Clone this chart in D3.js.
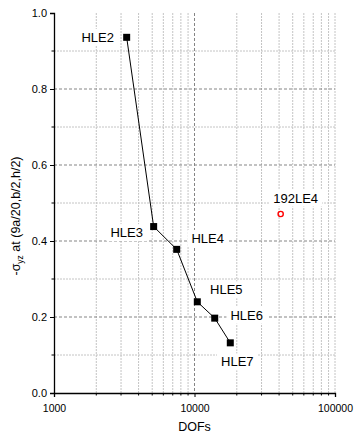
<!DOCTYPE html>
<html>
<head>
<meta charset="utf-8">
<script src="https://cdn.jsdelivr.net/npm/d3@7"></script>
<style>
  body { margin: 0; background: #fff; }
  svg text { font-family: "Liberation Sans", Arial, sans-serif; fill: #000; }
</style>
</head>
<body>
<div id="chart"></div>
<script>
// data
var labels = ['HLE2', 'HLE3', 'HLE4', 'HLE5', 'HLE6', 'HLE7'];
var dofs = [3290, 5120, 7470, 10470, 13930, 17980];
var stress = [0.936, 0.438, 0.378, 0.240, 0.197, 0.132];
var refLabel = ['192LE4'];
var refDofs = [41050];
var refStress = [0.471];
var xTicks = [1000, 10000, 100000];
var yTicks = [0, 0.2, 0.4, 0.6, 0.8, 1.0];

function addLabel(g, text, x, y) {
    var t = g.append("text")
        .attr("x", x)
        .attr("y", y)
        .attr("dy", "0.35em")
        .attr("text-anchor", "middle")
        .style("font-size", "13px")
        .text(text);
    var b = t.node().getBBox();
    g.insert("rect", function() { return t.node(); })
        .attr("x", b.x - 4).attr("y", b.y - 1)
        .attr("width", b.width + 8).attr("height", b.height + 2)
        .attr("fill", "#fff");
}

(function (d3) {
    var margin = { top: 13, right: 19, bottom: 40, left: 54 };
    var width = 354 - margin.left - margin.right;
    var height = 433 - margin.top - margin.bottom;

    var svg = d3.select("#chart").append("svg")
        .attr("width", 354).attr("height", 433);
    var g = svg.append("g")
        .attr("transform", "translate(" + margin.left + "," + margin.top + ")");

    var x = d3.scaleLog().domain([1000, 100000]).range([0, width]);
    var y = d3.scaleLinear().domain([0, 1]).range([height, 0]);

    var minorX = [];
    [1000, 10000].forEach(function(d) {
        for (var k = 2; k <= 9; k++) minorX.push(d * k);
    });
    var minorY = [0.1, 0.3, 0.5, 0.7, 0.9];

    // grid
    var grid = g.append("g");
    grid.selectAll(".vmin").data(minorX.concat([100000])).enter().append("line")
        .attr("x1", d => x(d)).attr("x2", d => x(d))
        .attr("y1", 0).attr("y2", height)
        .attr("stroke", "#c4c4c4").attr("stroke-dasharray", "2,1");
    grid.selectAll(".hmin").data(minorY).enter().append("line")
        .attr("x1", 0).attr("x2", width)
        .attr("y1", d => y(d)).attr("y2", d => y(d))
        .attr("stroke", "#c4c4c4").attr("stroke-dasharray", "2,1");
    grid.selectAll(".vmaj").data([10000]).enter().append("line")
        .attr("x1", d => x(d)).attr("x2", d => x(d))
        .attr("y1", 0).attr("y2", height)
        .attr("stroke", "#858585").attr("stroke-dasharray", "3,2");
    grid.selectAll(".hmaj").data([0.2, 0.4, 0.6, 0.8]).enter().append("line")
        .attr("x1", 0).attr("x2", width)
        .attr("y1", d => y(d)).attr("y2", d => y(d))
        .attr("stroke", "#858585").attr("stroke-dasharray", "3,2");

    // labels (white boxes hide the grid)
    var lab = g.append("g");
    var offs = [[-29, 0], [-27, 6], [31, -11], [29, -12], [32, -3], [7, 19]];
    labels.forEach(function(l, i) {
        addLabel(lab, l, x(dofs[i]) + offs[i][0], y(stress[i]) + offs[i][1]);
    });
    addLabel(lab, refLabel[0], x(refDofs[0]) + 15, y(refStress[0]) - 16);

    // axes
    var xAxis = g.append("g").attr("transform", "translate(0," + height + ")")
        .call(d3.axisBottom(x).tickValues(xTicks).tickFormat(d3.format("d")).tickSize(4));
    xAxis.append("g").selectAll("line").data(minorX).enter().append("line")
        .attr("x1", d => x(d)).attr("x2", d => x(d))
        .attr("y1", 0).attr("y2", 2.5).attr("stroke", "#000");
    xAxis.selectAll("text").style("font-size", "10.5px").attr("dy", "1.1em");

    var yAxis = g.append("g")
        .call(d3.axisLeft(y).tickValues(yTicks).tickFormat(d3.format(".1f")).tickSize(4));
    yAxis.append("g").selectAll("line").data(minorY).enter().append("line")
        .attr("x1", 0).attr("x2", -2.5)
        .attr("y1", d => y(d)).attr("y2", d => y(d)).attr("stroke", "#000");
    yAxis.selectAll("text").style("font-size", "11px");
    g.selectAll(".domain").attr("stroke", "#000").attr("stroke-width", 1.3);
    g.selectAll(".tick line").attr("stroke", "#000");

    // series
    var line = d3.line().x(d => x(d[0])).y(d => y(d[1]));
    var pts = dofs.map((d, i) => [d, stress[i]]);
    g.append("path").datum(pts).attr("d", line)
        .attr("fill", "none").attr("stroke", "#000").attr("stroke-width", 1);
    g.selectAll(".sq").data(pts).enter().append("rect")
        .attr("x", d => x(d[0]) - 3.5).attr("y", d => y(d[1]) - 3.5)
        .attr("width", 7).attr("height", 7).attr("fill", "#000");
    g.selectAll(".ref").data(refDofs).enter().append("circle")
        .attr("cx", d => x(d)).attr("cy", (d, i) => y(refStress[i]))
        .attr("r", 2.6).attr("fill", "none").attr("stroke", "#ff0000").attr("stroke-width", 1.4);

    // titles
    svg.append("text")
        .attr("x", margin.left + x(10000)).attr("y", 431)
        .attr("text-anchor", "middle").style("font-size", "12.5px")
        .text("DOFs");
    var yt = svg.append("text")
        .attr("transform", "translate(20," + (margin.top + height / 2 + 13) + ") rotate(-90)")
        .attr("text-anchor", "middle").style("font-size", "12.5px");
    yt.append("tspan").text("-σ");
    yt.append("tspan").attr("dy", "3").style("font-size", "8.5px").text("yz");
    yt.append("tspan").attr("dy", "-3").text(" at (9a/20,b/2,h/2)");
})(d3);
</script>
</body>
</html>
